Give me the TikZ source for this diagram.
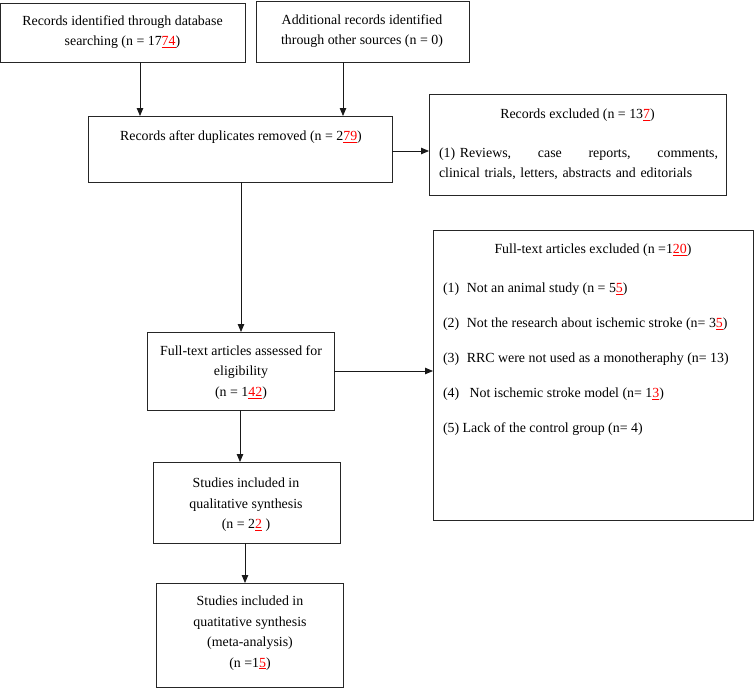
\documentclass[tikz,border=0pt]{standalone}
\usepackage{fontspec}
\setmainfont{Liberation Serif}
\usetikzlibrary{arrows.meta,fit}
\newcommand\redu[1]{\textcolor{red}{\underline{#1}}}
\begin{document}
\begin{tikzpicture}[x=1pt,y=-1pt,
  box/.style={draw=black!85, line width=0.8pt, inner sep=0pt, outer sep=0pt},
  txt/.style={inner sep=0pt, outer sep=0pt, align=center, font=\fontsize{13.9}{20.5}\selectfont},
  arr/.style={-{Triangle[length=8pt,width=6.5pt]}, line width=0.8pt, draw=black!90}]
\useasboundingbox (0,0) rectangle (754,688);
% boxes
\node[box, fit={(0.6,3) (245,62)}] (b1) {};
\node[box, fit={(256,1) (469,62)}] (b2) {};
\node[box, fit={(88,116) (392,182)}] (b3) {};
\node[box, fit={(429,94) (726,195)}] (b4) {};
\node[box, fit={(433,230) (753,520)}] (b5) {};
\node[box, fit={(147,332) (334,410)}] (b6) {};
\node[box, fit={(153,462) (340,543)}] (b7) {};
\node[box, fit={(156,583) (343,687)}] (b8) {};
% texts
\node[txt] (t1) at (122.5,32) {Records identified through database\\searching (n = 17\redu{74})};
\node[txt] (t2) at (362,31) {Additional records identified\\through other sources (n = 0)};
\node[txt] (t3) at (241,137) {Records after duplicates removed (n = 2\redu{79})};
\node[txt] (t4a) at (577.5,115) {Records excluded (n = 13\redu{7})};
\node[txt, text width=279pt, align=left] (t4b) at (578.5,163.5) {(1)~Reviews,\hfill case\hfill reports,\hfill comments,\\clinical trials, letters, abstracts and editorials};
\node[txt] (t5a) at (593,250) {Full-text articles excluded (n =1\redu{20})};
\node[txt, align=left, anchor=west, font=\fontsize{13.9}{35}\selectfont] (t5b) at (443,359)
 {(1)\hspace{0.55em}Not an animal study (n = 5\redu{5})\\
  (2)\hspace{0.55em}Not the research about ischemic stroke (n= 3\redu{5})\\
  (3)\hspace{0.55em}RRC were not used as a monotheraphy (n= 13)\\
  (4)\hspace{0.75em}Not ischemic stroke model (n= 1\redu{3})\\
  (5) Lack of the control group (n= 4)};
\node[txt] (t6) at (241,372.5) {Full-text articles assessed for\\eligibility\\(n = 1\redu{42})};
\node[txt] (t7) at (246,505) {Studies included in\\qualitative synthesis\\(n = 2\redu{2} )};
\node[txt] (t8) at (250,633) {Studies included in\\quatitative synthesis\\(meta-analysis)\\(n =1\redu{5})};
% connectors
\draw[arr] (b1.south -| 140,0) -- (b3.north -| 140,0);
\draw[arr] (b2.south -| 343,0) -- (b3.north -| 343,0);
\draw[arr] (b3.east |- 0,151) -- (b4.west |- 0,151);
\draw[arr] (b3.south -| 241,0) -- (b6.north -| 241,0);
\draw[arr] (b6.east |- 0,371) -- (b5.west |- 0,371);
\draw[arr] (b6.south -| 240,0) -- (b7.north -| 240,0);
\draw[arr] (b7.south -| 245,0) -- (b8.north -| 245,0);
\end{tikzpicture}
\end{document}
